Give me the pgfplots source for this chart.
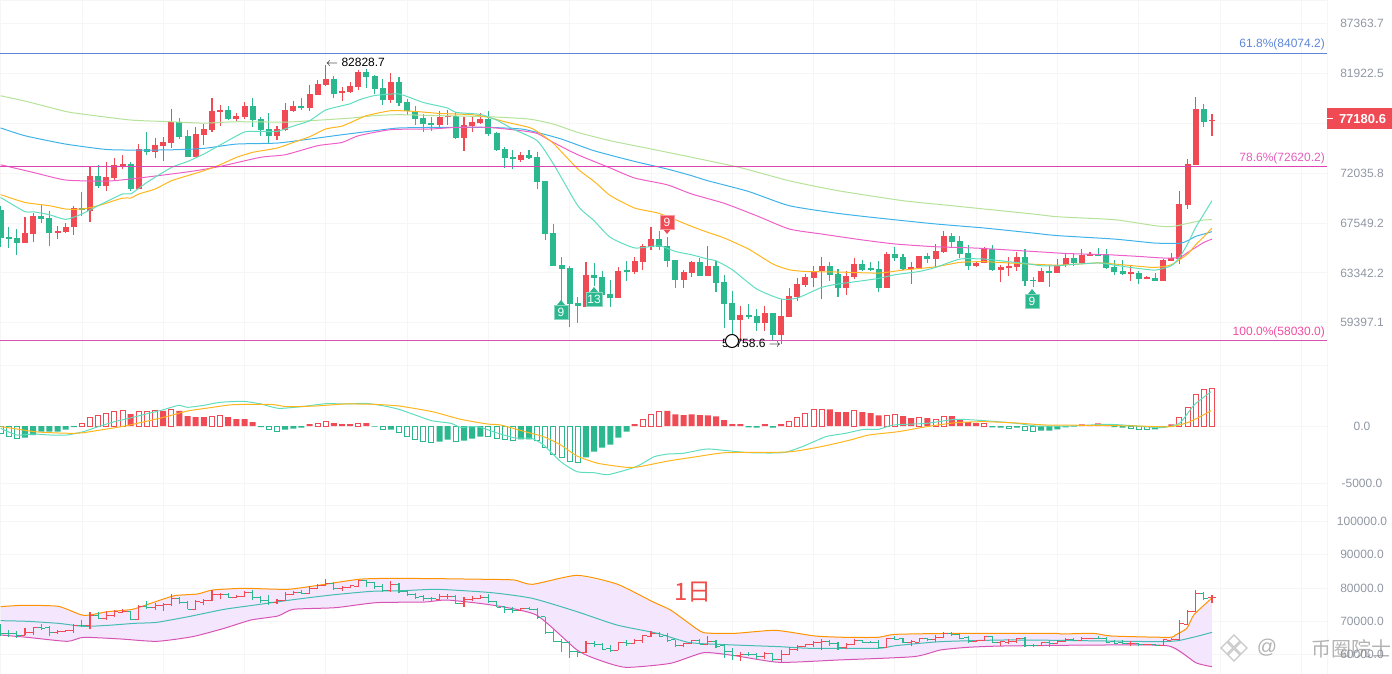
\documentclass[border=0pt]{standalone}
\usepackage{fontspec}
\setmainfont{Liberation Sans}
\newfontfamily\cjk{Noto Sans CJK SC}
\usepackage{pgfplots}
\usepackage{pgfplotstable}
\pgfplotsset{compat=1.18}
\definecolor{upc}{HTML}{F04A55}
\definecolor{dnc}{HTML}{2BB88F}
\definecolor{mateal}{HTML}{5FDDBF}
\definecolor{maorg}{HTML}{FFB61E}
\definecolor{mapink}{HTML}{EE5FC8}
\definecolor{mablue}{HTML}{3FB2EA}
\definecolor{malime}{HTML}{B6E29A}
\definecolor{fibblue}{HTML}{5F86D8}
\definecolor{fibpink}{HTML}{DE41B0}
\definecolor{gridc}{HTML}{F6F6F6}
\definecolor{tickc}{HTML}{8F97A3}
\definecolor{bollfill}{HTML}{F4E6FC}
\definecolor{bollmid}{HTML}{45BDB5}
\pgfplotstableread{
x o h l c
3 65860 68100 65860 66710
4 66630 68400 65880 68190
7 66710 67320 66170 66880
8 66770 67520 66650 67230
9 67170 69080 66520 68870
11 68630 72710 67670 71810
13 70880 73110 70360 71710
14 71590 73430 71340 72830
15 72740 73780 72390 72900
17 70610 74800 70580 74350
19 74000 75380 73430 74740
20 74640 75510 73210 75030
21 74930 78290 74440 76920
24 73590 76490 73560 75810
25 75710 76820 74740 76300
26 76200 79410 76000 78090
27 77990 78620 76590 78190
29 77290 77820 77060 77590
30 77480 79000 77260 78600
34 75610 76590 75220 76300
35 76200 78900 76100 78190
36 78090 79100 77960 78600
38 78390 80750 78090 79820
39 79720 81240 79720 80860
40 80750 82830 80650 81380
42 79850 80470 79100 80130
43 80030 81000 79890 80650
44 80550 82330 80230 82120
48 79200 82020 78830 81070
54 76690 78090 76430 77480
55 77420 78190 76690 77590
57 75410 77420 74160 76690
58 76590 77590 76000 76990
59 76890 77860 76760 77290
64 73300 74060 73090 73780
72 60630 64210 60580 63190
76 61340 63840 61340 63520
78 63440 64670 63250 64340
79 64260 65750 63600 65600
80 65510 67210 65260 66200
84 62790 63580 62140 63440
85 63360 64340 63030 64210
87 63110 65540 63110 63930
91 59630 60690 58160 60020
94 59400 60690 58790 60170
96 58490 61240 57760 59940
97 59860 62110 59860 61510
98 61430 62890 61110 62470
99 62390 63250 62220 63030
100 62950 63930 62170 63520
101 63520 64670 61240 63930
104 62140 63520 61560 63110
105 63030 64610 62840 64100
109 62140 65100 62140 64930
112 63680 64260 62440 63840
113 63760 64760 63740 64760
115 64510 65750 63740 65180
116 65100 66880 65010 66460
120 63930 64340 63840 64180
121 64180 65460 64180 65350
123 63600 63980 62570 63840
124 63760 64670 63110 63930
125 63840 65100 63520 64670
128 62620 63740 62620 63520
130 63360 64450 63300 64020
131 64020 64950 63790 64600
133 64180 65320 64120 64850
134 64760 65070 64760 64930
139 63270 63930 62700 63440
141 62870 63110 62810 63030
143 62700 64490 62650 64430
144 64340 64980 64340 64600
145 64510 70430 64040 69260
146 69170 73400 68810 72920
147 72830 79510 72830 78290
149 77020 77760 75540 77180.6
}\upbars
\pgfplotstableread{
x o h l c
0 68720 69080 65460 66220
1 66370 67230 65410 66200
2 66280 67030 64840 65860
5 68190 69190 67520 67930
6 68010 68570 65600 66710
10 68870 70270 68130 68660
12 71810 72830 70670 70880
16 72920 73110 70400 70610
18 74350 76000 73710 74000
22 76920 77350 75340 75510
23 75610 76200 73560 73590
28 78190 78560 77160 77290
31 78600 79410 76430 77190
32 77290 77460 75610 76200
33 76300 77890 74900 75610
37 78600 79410 78160 78390
41 81380 81700 79410 79820
45 82120 82400 80370 81590
46 81700 81800 79790 80340
47 80440 81310 78700 79200
49 81070 81590 78600 78900
50 79000 79270 77690 78090
51 77990 78560 76690 77290
52 77390 77760 76000 76790
53 76890 77420 76100 76720
56 77590 77920 75280 75380
60 77290 78090 75610 75810
61 75900 76000 74160 74250
62 74350 74540 72520 73490
63 73590 74250 72390 73330
65 73780 74250 73330 73490
66 73590 74060 70610 71250
67 71340 71340 66110 66630
68 66710 67470 63930 63930
69 64020 64670 60850 63680
70 63760 63930 59040 60870
71 60950 61420 59370 60710
73 63190 64130 62300 62950
74 63030 63460 61560 61580
75 61660 62790 60630 61340
77 63600 64290 62700 63440
81 66200 66880 65260 65510
82 65600 66370 63790 64340
83 64430 64430 62140 62790
86 64210 64570 63110 63110
88 63930 64340 61820 62550
89 62630 63140 59010 60870
90 60950 61880 58410 59630
92 60020 60870 59700 59860
93 59940 60420 58790 59400
95 60170 60170 58080 58490
102 63930 64260 62700 63190
103 63270 63660 61420 62140
106 64100 64430 63520 63600
107 63760 64210 63460 63600
108 63680 64340 61770 62140
110 64930 65510 64340 64590
111 64670 64900 63570 63680
114 64760 64950 64180 64510
117 66460 66680 65510 65940
118 66030 66460 64570 64930
119 65010 65690 63600 63930
122 65350 65690 63520 63600
126 64670 65350 62300 62700
127 62790 63030 62170 62650
129 63520 64020 62220 63360
132 64600 64900 63930 64180
135 64930 65430 64700 64760
136 64870 65320 63680 63760
137 63840 64400 63170 63440
138 63520 64400 63190 63270
140 63360 63520 62440 62870
142 62950 63300 62650 62700
148 78290 78800 76490 76990
}\dnbars
\pgfplotsset{
 pane/.style={scale only axis, width=1327pt, xmin=-0.074, xmax=163.15,
  xtick={10,20,...,160}, xticklabels={}, major tick length=0pt,
  grid=major, grid style={gridc, line width=0.8pt},
  axis line style={draw=gridc, line width=0.8pt},
  scaled y ticks=false,
  yticklabel pos=right,
  yticklabel style={anchor=center, xshift=35pt, font=\fontsize{12}{14}\selectfont, text=tickc},
  every axis plot/.append style={forget plot}},
 wick/.style={draw=none, no markers, error bars/.cd, y dir=plus, y explicit, error mark=none,
  error bar style={line width=1.1pt, draw=#1}},
 body/.style={draw=none, no markers, error bars/.cd, y dir=plus, y explicit, error mark=none,
  error bar style={line width=6pt, draw=#1}},
 tickl/.style={draw=none, no markers, error bars/.cd, x dir=minus, x fixed=0.5, error mark=none,
  error bar style={line width=1pt, draw=#1}},
 tickr/.style={draw=none, no markers, error bars/.cd, x dir=plus, x fixed=0.5, error mark=none,
  error bar style={line width=1pt, draw=#1}},
 ln/.style={#1, line width=1pt, mark=none, smooth, tension=0.35},
 hs/.style={ybar, bar width=6pt, bar shift=0pt, fill=#1, draw=none},
 hh/.style={ybar, bar width=5pt, bar shift=0pt, fill=white, draw=#1, line width=1pt},
}
\begin{document}
\begin{tikzpicture}
\path[use as bounding box] (0pt,0pt) rectangle (1392pt,-674pt);
%---------------------- price pane
\begin{axis}[pane, at={(0pt,-0.8pt)}, anchor=north west, height=365pt, ymode=log,
 ymin=56192, ymax=89995,
 ytick={59397.1,63342.2,67549.2,72035.8,76790,81922.5,87363.7},
 yticklabels={59397.1,63342.2,67549.2,72035.8,,81922.5,87363.7}]
\addplot[wick=upc] table[x=x,y=l,y error plus expr=\thisrow{h}-\thisrow{l}] {\upbars};
\addplot[wick=dnc] table[x=x,y=l,y error plus expr=\thisrow{h}-\thisrow{l}] {\dnbars};
\addplot[body=upc] table[x=x,y=o,y error plus expr=\thisrow{c}-\thisrow{o}] {\upbars};
\addplot[body=dnc] table[x=x,y=c,y error plus expr=\thisrow{o}-\thisrow{c}] {\dnbars};
% lime
\addplot[ln=malime] coordinates {(0,79610)(3,79070)(8,78020)(10,77760)(16,77160)(21,76990)(25,76860)(29,76990)(35,76960)(38,77090)(43,77350)(46,77590)(49,77690)(54,77590)(60,77490)(65,77260)(68,76760)(71,75930)(75,75120)(79,74480)(85,73530)(91,72550)(97,71340)(103,70430)(111,69525)(117,69080)(127,68340)(130,68100)(137,67840)(142,67320)(144,67230)(146,67520)(148,67810)(149,67840)};
% blue
\addplot[ln=mablue] coordinates {(0,76380)(3,75610)(8,74800)(13,74280)(17,74220)(21,74250)(25,74380)(29,74800)(34,74900)(38,75280)(42,75710)(46,76100)(49,76370)(54,76430)(60,76430)(64,76270)(66,75930)(69,75280)(73,74160)(78,73140)(82,72430)(85,71810)(87,71340)(92,70360)(97,69080)(103,68400)(108,67990)(115,67470)(121,67120)(127,66680)(130,66460)(137,66170)(142,65830)(145,65800)(146,66030)(147,66400)(148,66600)(149,66800)};
% pink
\addplot[ln=mapink] coordinates {(0,72830)(4,72110)(8,71410)(13,71310)(16,71500)(21,71960)(24,72270)(27,72670)(32,73530)(35,73780)(39,74640)(42,74960)(44,75610)(48,76200)(53,76270)(56,76430)(60,76430)(64,76100)(66,75840)(68,74960)(71,73780)(75,72520)(78,71590)(82,70970)(85,70130)(89,69290)(93,68190)(97,67030)(101,66600)(106,66090)(110,65750)(115,65510)(120,65400)(127,65120)(131,64950)(136,64850)(140,64700)(143,64570)(145,64610)(146,65030)(147,65460)(148,65880)(149,66170)};
% orange
\addplot[ln=maorg] coordinates {(0,70070)(3,69370)(6,69080)(8,68780)(10,68780)(12,69080)(15,69760)(16,69760)(17,70130)(19,70580)(21,71340)(23,71810)(25,72270)(27,72830)(29,73520)(31,74000)(34,74420)(36,74960)(38,75510)(40,76270)(42,76560)(44,77260)(45,77590)(48,78090)(51,78020)(54,77820)(58,77690)(60,77420)(62,76990)(65,76430)(66,76030)(68,74860)(71,72430)(73,71280)(75,69980)(78,68870)(81,68400)(85,67260)(87,66740)(89,66260)(92,65320)(95,64070)(97,63600)(99,63460)(103,63410)(108,63330)(111,63570)(115,63840)(118,64210)(121,64260)(125,64120)(130,63980)(135,64160)(137,64070)(140,63880)(142,63790)(144,64010)(146,64900)(147,65690)(148,66370)(149,67120)};
% teal
\addplot[ln=mateal] coordinates {(0,69820)(3,68545)(4,68545)(6,68280)(8,67870)(10,68340)(12,69080)(15,70130)(16,70130)(18,71190)(21,72570)(23,73140)(25,73840)(27,74710)(30,75970)(32,76030)(34,76030)(36,76560)(38,77090)(40,78160)(43,78800)(44,79170)(46,79640)(49,79790)(52,78930)(55,78360)(56,77920)(59,77720)(61,77160)(63,76270)(66,75120)(68,72900)(71,69080)(73,67750)(75,66310)(78,65410)(81,65600)(83,65120)(85,64840)(87,64480)(88,64340)(90,63600)(93,62040)(96,61240)(98,61320)(101,62170)(103,62440)(106,62700)(108,62890)(110,63190)(113,63460)(115,63790)(118,64480)(121,64480)(124,64260)(126,64120)(128,63930)(130,63930)(132,64040)(135,64160)(137,63980)(139,63790)(142,63570)(144,63930)(145,64610)(146,65750)(147,67170)(148,68340)(149,69525)};
% Fibonacci levels
\addplot[fibblue, line width=1pt] coordinates {(-0.074,84074.2)(163.15,84074.2)};
\addplot[fibpink, line width=1pt] coordinates {(-0.074,72620.2)(163.15,72620.2)};
\addplot[mapink!90!black, line width=1pt] coordinates {(-0.074,58030)(163.15,58030)};
\end{axis}
%---------------------- MACD pane
\begin{axis}[pane, at={(0pt,-365pt)}, anchor=north west, height=140pt,
 ymin=-6870, ymax=5305, ytick={-5000,0}, yticklabels={-5000.0,0.0}]
\addplot[hs=upc] coordinates {(16,1044)(20,1305)(22,1305)(23,870)(24,783)(25,783)(28,783)(29,609)(30,609)(31,348)(38,174)(41,261)(42,174)(43,174)(45,261)(78,174)(82,1305)(83,1015)(84,957)(85,1015)(86,957)(87,928)(88,841)(89,522)(90,174)(91,174)(94,174)(96,174)(102,1450)(103,1218)(104,1218)(106,1218)(107,1131)(108,928)(111,870)(112,696)(114,696)(117,870)(118,522)(119,348)(120,261)(133,145)(134,87)(135,232)(136,145)(144,145)};
\addplot[hh=upc] coordinates {(10,232)(11,754)(12,928)(13,1102)(14,1247)(15,1363)(17,1276)(18,1276)(19,1363)(21,1450)(26,841)(27,928)(39,261)(40,406)(44,261)(79,580)(80,1015)(81,1276)(97,406)(98,754)(99,1102)(100,1392)(101,1450)(105,1305)(109,928)(110,1044)(113,754)(115,609)(116,870)(121,232)(145,754)(146,1624)(147,2726)(148,3161)(149,3277)};
\addplot[hs=dnc] coordinates {(3,-1015)(4,-783)(5,-493)(6,-493)(7,-493)(8,-319)(9,-87)(32,-87)(35,-319)(36,-232)(37,-145)(46,-58)(48,-319)(54,-1363)(55,-1189)(57,-1276)(58,-1102)(59,-928)(64,-1160)(65,-1160)(72,-2726)(73,-2233)(74,-1885)(75,-1624)(76,-1015)(77,-493)(92,-116)(93,-145)(95,-145)(122,-116)(123,-145)(125,-145)(128,-406)(129,-406)(130,-290)(131,-116)(132,-58)(137,-87)(138,-145)(142,-290)(143,-87)};
\addplot[hh=dnc] coordinates {(0,-638)(1,-928)(2,-1073)(33,-319)(34,-464)(47,-319)(49,-551)(50,-928)(51,-1160)(52,-1334)(53,-1421)(56,-1334)(60,-928)(61,-1102)(62,-1160)(63,-1247)(66,-1247)(67,-1885)(68,-2465)(69,-2726)(70,-3074)(71,-3161)(124,-203)(126,-406)(127,-493)(139,-232)(140,-290)(141,-290)};
\addplot[ln=mateal] coordinates {(0,-203)(2,-783)(4.1,-696)(6.1,-783)(8.2,-783)(10.2,-493)(12,-58)(14,377)(15.8,667)(17.9,1044)(19.9,1392)(21.9,1798)(23,1624)(25,1798)(27,2059)(29.9,2146)(32,1914)(34.2,1537)(37,1682)(40,1943)(42.3,1914)(44.9,1972)(47.2,1740)(49,1450)(51,957)(53,464)(55.4,232)(56.6,-116)(58.7,-58)(61.2,-638)(63.3,-1044)(65.3,-1073)(66.8,-1653)(68.9,-3103)(70.9,-3973)(73,-4060)(74.7,-4234)(77.6,-3683)(78.6,-3393)(80.4,-2668)(82.1,-2436)(83.9,-2378)(86.8,-2001)(88.6,-2088)(92.1,-2320)(96.2,-2320)(98.6,-1798)(101.5,-928)(103.9,-638)(106.2,-290)(108,-290)(109.8,87)(113.9,232)(117.5,580)(121,464)(125,232)(127.4,0)(131.5,0)(136.2,145)(139.8,0)(142.7,-145)(145,232)(146.8,1827)(148.9,2987)};
\addplot[ln=maorg] coordinates {(0,-58)(2,-261)(4.1,-493)(6.1,-580)(8.7,-638)(10.2,-580)(12.8,-290)(15.3,0)(17.9,406)(20.4,812)(23,1305)(25.5,1566)(28.6,1856)(33.2,1885)(35.2,1682)(38.8,1740)(42.3,1914)(45.9,1885)(49,1740)(53.1,1247)(56.6,580)(59.9,174)(61.5,87)(64.8,-551)(66.8,-928)(68.9,-1653)(70.9,-2610)(73.5,-3248)(77,-3596)(78.6,-3538)(82.1,-3045)(85.6,-2668)(89.2,-2320)(96.8,-2262)(100.9,-1798)(104.5,-1218)(106.8,-783)(110.4,-493)(113.9,-58)(117.5,290)(121,377)(125,261)(128.6,87)(134.5,58)(139.8,0)(143.9,-58)(146.3,377)(148.9,1334)};
\end{axis}
%---------------------- BOLL pane
\begin{axis}[pane, at={(0pt,-505pt)}, anchor=north west, height=169pt,
 ymin=54135, ymax=104962, ytick={60000,70000,80000,90000,100000},
 yticklabels={60000.0,70000.0,80000.0,90000.0,100000.0}]
\addplot[fill=bollfill, draw=none] coordinates {(0,74386)(2.7,74787)(7.1,74486)(10.2,71780)(13.2,72882)(16.2,73584)(18.7,75589)(21.4,77694)(24.2,78196)(26.1,79398)(29.9,79900)(35.2,79599)(38.5,80601)(44,82606)(47.8,82907)(53.8,82807)(59.9,82606)(63.2,82406)(65.4,81103)(70.9,83810)(75.8,81203)(80.2,75890)(82.4,73384)(84.8,69173)(86.5,66567)(90.3,66366)(95.3,67268)(100.2,65564)(104,65163)(107.9,65163)(110.1,66065)(117.8,66366)(129.4,66366)(130.5,66165)(134.4,66366)(136.6,65564)(143.7,65163)(144.5,65865)(145.9,67870)(146.8,72000)(149,77000)(149,56341)(147,57544)(143.7,62556)(135.5,62857)(123.3,62556)(118.9,62155)(115.6,61353)(112.3,59348)(103,58346)(95.8,57644)(90.3,59650)(86.5,60552)(82.4,57343)(76.9,56141)(73.6,58344)(70.9,61353)(65.9,71880)(60.4,74887)(54.9,76391)(52.2,75790)(46.2,75589)(41.2,74085)(36,73584)(34.1,71579)(30.8,70376)(27.5,67870)(23.6,65363)(19.2,63960)(14.8,64662)(10.2,65163)(8.2,63960)(3.3,65163)(0,65865)} --cycle;
\addplot[ln=orange!85!yellow] coordinates {(0,74386)(2.7,74787)(7.1,74486)(10.2,71780)(13.2,72882)(16.2,73584)(18.7,75589)(21.4,77694)(24.2,78196)(26.1,79398)(29.9,79900)(35.2,79599)(38.5,80601)(44,82606)(47.8,82907)(53.8,82807)(59.9,82606)(63.2,82406)(65.4,81103)(70.9,83810)(75.8,81203)(80.2,75890)(82.4,73384)(84.8,69173)(86.5,66567)(90.3,66366)(95.3,67268)(100.2,65564)(104,65163)(107.9,65163)(110.1,66065)(117.8,66366)(129.4,66366)(130.5,66165)(134.4,66366)(136.6,65564)(143.7,65163)(144.5,65865)(145.9,67870)(146.8,72000)(149,77000)};
\addplot[ln=mapink!90!black] coordinates {(0,65865)(3.3,65163)(8.2,63960)(10.2,65163)(14.8,64662)(19.2,63960)(23.6,65363)(27.5,67870)(30.8,70376)(34.1,71579)(36,73584)(41.2,74085)(46.2,75589)(52.2,75790)(54.9,76391)(60.4,74887)(65.9,71880)(70.9,61353)(73.6,58344)(76.9,56141)(82.4,57343)(86.5,60552)(90.3,59650)(95.8,57644)(103,58346)(112.3,59348)(115.6,61353)(118.9,62155)(123.3,62556)(135.5,62857)(143.7,62556)(147,57544)(149,56341)};
\addplot[ln=bollmid] coordinates {(0,70175)(3.3,69975)(7.1,69373)(10.2,68471)(13.2,68772)(16.5,69373)(19.2,69674)(23.1,71379)(27.5,73584)(31.3,74887)(36.3,76591)(40.7,77895)(45.6,79000)(49.5,79198)(53.8,79599)(60.4,78597)(65.4,76892)(70.9,72882)(75.8,68872)(80.8,66366)(84.8,63559)(90.3,62857)(95.8,62356)(99.7,61855)(107.9,61855)(110.1,62656)(115.6,63860)(123.3,64361)(130,64261)(136,64060)(142.6,63860)(144.8,64160)(147,65364)(149,66667)};
\addplot[wick=upc] table[x=x,y=l,y error plus expr=\thisrow{h}-\thisrow{l}] {\upbars};
\addplot[wick=dnc] table[x=x,y=l,y error plus expr=\thisrow{h}-\thisrow{l}] {\dnbars};
\addplot[tickl=upc] table[x=x,y=o] {\upbars};
\addplot[tickr=upc] table[x=x,y=c] {\upbars};
\addplot[tickl=dnc] table[x=x,y=o] {\dnbars};
\addplot[tickr=dnc] table[x=x,y=c] {\dnbars};
\end{axis}
%---------------------- annotations
\def\fs#1{\fontsize{#1}{#1}\selectfont}
\node[anchor=east, text=fibblue, inner sep=0pt, font=\fs{12}] at (1325pt,-44pt) {61.8\%(84074.2)};
\node[anchor=east, text=fibpink!85, inner sep=0pt, font=\fs{12}] at (1325pt,-158pt) {78.6\%(72620.2)};
\node[anchor=east, text=mapink!80!red, inner sep=0pt, font=\fs{12}] at (1325pt,-332pt) {100.0\%(58030.0)};
\node[anchor=west, inner sep=0pt, font=\fs{12}] at (326pt,-62pt) {$\leftarrow$ 82828.7};
\node[anchor=west, inner sep=0pt, font=\fs{12}] at (722pt,-343pt) {57758.6 $\rightarrow$};
\draw[black, fill=white, line width=1pt] (732pt,-341pt) circle (6.5pt);
% last price
\fill[upc] (1327pt,-108pt) rectangle (1392pt,-129pt);
\draw[white, line width=1pt] (1327pt,-119pt) -- (1333pt,-119pt);
\node[text=white, inner sep=0pt, font=\fs{13}\bfseries] at (1362.5pt,-119pt) {77180.6};
% TD badges
\def\badge#1#2#3#4#5{\node[fill=#3, draw=#3!55, line width=0.8pt, text=white, inner sep=0pt, minimum height=14pt, minimum width=#5, font=\fs{12}] at (#1pt,-#2pt) {#4};}
\fill[dnc] (557pt,-305pt) -- (561pt,-300pt) -- (565pt,-305pt) -- cycle;
\badge{561}{312}{dnc}{9}{14pt}
\fill[dnc] (590pt,-292pt) -- (594pt,-287pt) -- (598pt,-292pt) -- cycle;
\badge{594}{299}{dnc}{13}{16pt}
\fill[upc] (663pt,-229pt) -- (667pt,-234pt) -- (671pt,-229pt) -- cycle;
\badge{667}{222}{upc}{9}{14pt}
\fill[dnc] (1028pt,-294pt) -- (1032pt,-289pt) -- (1036pt,-294pt) -- cycle;
\badge{1032}{301}{dnc}{9}{14pt}
% period label
\node[text=upc!90!orange, inner sep=0pt, font=\fs{24}\cjk] at (693pt,-592pt) {1日};
% watermark
\begin{scope}[opacity=0.6]
\foreach \dx/\dy in {0/7,-7/0,7/0,0/-7}{
 \draw[gray!70, line width=1.2pt, fill=white] (1234pt+\dx pt,-648pt+\dy pt+6pt) -- (1234pt+\dx pt+6pt,-648pt+\dy pt) -- (1234pt+\dx pt,-648pt+\dy pt-6pt) -- (1234pt+\dx pt-6pt,-648pt+\dy pt) -- cycle;}
\node[text=gray, inner sep=0pt, font=\fs{20}] at (1267pt,-648pt) {@};
\node[text=gray, inner sep=0pt, font=\fs{20}\cjk] at (1351pt,-649pt) {币圈院士};
\end{scope}
\end{tikzpicture}
\end{document}
